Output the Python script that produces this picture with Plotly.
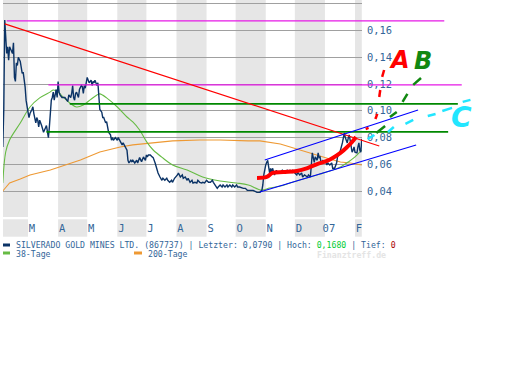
import plotly.graph_objects as go
import pandas as pd

# ---------------- data ----------------
price_dates = [
    "2006-02-03", "2006-02-04", "2006-02-05", "2006-02-06", "2006-02-07", "2006-02-08", "2006-02-09", "2006-02-10",
    "2006-02-13", "2006-02-14", "2006-02-15", "2006-02-16", "2006-02-17", "2006-02-18", "2006-02-19", "2006-02-21",
    "2006-02-22", "2006-02-23", "2006-02-24", "2006-02-25", "2006-02-26", "2006-02-27", "2006-02-28",
    "2006-03-01", "2006-03-02", "2006-03-03", "2006-03-05", "2006-03-06", "2006-03-07", "2006-03-09", "2006-03-10",
    "2006-03-11", "2006-03-12", "2006-03-13", "2006-03-15", "2006-03-16", "2006-03-17", "2006-03-20", "2006-03-21",
    "2006-03-22", "2006-03-23", "2006-03-24", "2006-03-25", "2006-03-26", "2006-03-27", "2006-03-28", "2006-03-30",
    "2006-03-31",
    "2006-04-01", "2006-04-02", "2006-04-03", "2006-04-05", "2006-04-06", "2006-04-08", "2006-04-10", "2006-04-11",
    "2006-04-12", "2006-04-14", "2006-04-15", "2006-04-16", "2006-04-17", "2006-04-18", "2006-04-19", "2006-04-20",
    "2006-04-22", "2006-04-23", "2006-04-25", "2006-04-26", "2006-04-27", "2006-04-28", "2006-04-29", "2006-04-30",
    "2006-05-01", "2006-05-02", "2006-05-03", "2006-05-05", "2006-05-06", "2006-05-07", "2006-05-08", "2006-05-09",
    "2006-05-10", "2006-05-11", "2006-05-12", "2006-05-13", "2006-05-14", "2006-05-16", "2006-05-17", "2006-05-18",
    "2006-05-19", "2006-05-20", "2006-05-21", "2006-05-22", "2006-05-23", "2006-05-25", "2006-05-26", "2006-05-27",
    "2006-05-28", "2006-05-30",
    "2006-06-01", "2006-06-02", "2006-06-04", "2006-06-06", "2006-06-07", "2006-06-09", "2006-06-11", "2006-06-12",
    "2006-06-13", "2006-06-15", "2006-06-16", "2006-06-17", "2006-06-19", "2006-06-21", "2006-06-22", "2006-06-24",
    "2006-06-26", "2006-06-28", "2006-06-30",
    "2006-07-01", "2006-07-02", "2006-07-03", "2006-07-05", "2006-07-07", "2006-07-08", "2006-07-10", "2006-07-12",
    "2006-07-13", "2006-07-15", "2006-07-17", "2006-07-18", "2006-07-20", "2006-07-22", "2006-07-23", "2006-07-25",
    "2006-07-27", "2006-07-28", "2006-07-30",
    "2006-08-02", "2006-08-03", "2006-08-05", "2006-08-07", "2006-08-08", "2006-08-10", "2006-08-12", "2006-08-13",
    "2006-08-15", "2006-08-17", "2006-08-18", "2006-08-20", "2006-08-22", "2006-08-23", "2006-08-25", "2006-08-27",
    "2006-08-28", "2006-08-30",
    "2006-09-01", "2006-09-03", "2006-09-05", "2006-09-07", "2006-09-08", "2006-09-10", "2006-09-12", "2006-09-13",
    "2006-09-15", "2006-09-17", "2006-09-18", "2006-09-20", "2006-09-22", "2006-09-23", "2006-09-25", "2006-09-27",
    "2006-09-28", "2006-09-30",
    "2006-10-02", "2006-10-03", "2006-10-05", "2006-10-09", "2006-10-11", "2006-10-13", "2006-10-16", "2006-10-19",
    "2006-10-23", "2006-10-26", "2006-10-28", "2006-10-29", "2006-10-30", "2006-10-31",
    "2006-11-01", "2006-11-02", "2006-11-03", "2006-11-04", "2006-11-05", "2006-11-06", "2006-11-07", "2006-11-08",
    "2006-11-10", "2006-11-12", "2006-11-13", "2006-11-14", "2006-11-16", "2006-11-18", "2006-11-19", "2006-11-21",
    "2006-11-23", "2006-11-24", "2006-11-26", "2006-11-28", "2006-11-29",
    "2006-12-01", "2006-12-03", "2006-12-04", "2006-12-06", "2006-12-08", "2006-12-09", "2006-12-11", "2006-12-14",
    "2006-12-15", "2006-12-17", "2006-12-18", "2006-12-19", "2006-12-20", "2006-12-21", "2006-12-22", "2006-12-24",
    "2006-12-25", "2006-12-26", "2006-12-27", "2006-12-28", "2006-12-30", "2006-12-31",
    "2007-01-01", "2007-01-03", "2007-01-04", "2007-01-06", "2007-01-08", "2007-01-09", "2007-01-11", "2007-01-13",
    "2007-01-14", "2007-01-17", "2007-01-19", "2007-01-20", "2007-01-21", "2007-01-22", "2007-01-24", "2007-01-25",
    "2007-01-26", "2007-01-27", "2007-01-28", "2007-01-29", "2007-01-30", "2007-01-31",
    "2007-02-01", "2007-02-03", "2007-02-04", "2007-02-05", "2007-02-06", "2007-02-07", "2007-02-08",
]
price_values = [
    0.073, 0.101, 0.168, 0.151, 0.143, 0.148, 0.138, 0.148,
    0.143, 0.151, 0.125, 0.122, 0.136, 0.134, 0.140, 0.137,
    0.132, 0.128, 0.129, 0.125, 0.118, 0.108, 0.101,
    0.099, 0.095, 0.098, 0.101, 0.103, 0.098, 0.091, 0.095,
    0.093, 0.088, 0.093, 0.089, 0.086, 0.084, 0.089, 0.083,
    0.080, 0.088, 0.101, 0.108, 0.110, 0.114, 0.108, 0.116,
    0.110,
    0.122, 0.114, 0.112, 0.110, 0.110, 0.110, 0.108, 0.107,
    0.112, 0.110, 0.113, 0.119, 0.110, 0.108, 0.113, 0.114,
    0.110, 0.116, 0.119, 0.118, 0.113, 0.119, 0.117, 0.121,
    0.125, 0.123, 0.121, 0.123, 0.119, 0.122, 0.121, 0.123,
    0.121, 0.119, 0.121, 0.106, 0.101, 0.099, 0.095, 0.095,
    0.092, 0.091, 0.092, 0.088, 0.084, 0.082, 0.078, 0.080,
    0.078, 0.080,
    0.078, 0.080, 0.077, 0.0745, 0.076, 0.073, 0.0705, 0.063,
    0.061, 0.063, 0.062, 0.063, 0.061, 0.063, 0.061, 0.065,
    0.062, 0.0655, 0.063,
    0.067, 0.0655, 0.067, 0.067, 0.0655, 0.065, 0.061, 0.0555,
    0.0535, 0.0505, 0.048, 0.0495, 0.048, 0.0495, 0.048, 0.0465,
    0.048, 0.0465, 0.0495,
    0.052, 0.0535, 0.0505, 0.052, 0.0495, 0.0505, 0.048, 0.0495,
    0.0465, 0.048, 0.046, 0.0465, 0.046, 0.048, 0.0465, 0.046,
    0.0465, 0.046,
    0.048, 0.0465, 0.0465, 0.048, 0.0465, 0.0445, 0.042, 0.043,
    0.0445, 0.043, 0.0445, 0.043, 0.0445, 0.043, 0.0445, 0.043,
    0.0445, 0.043,
    0.0445, 0.043, 0.043, 0.042, 0.042, 0.0405, 0.0405, 0.0405,
    0.039, 0.039, 0.0405, 0.0445, 0.052, 0.057,
    0.0595, 0.0615, 0.063, 0.058, 0.0535, 0.057, 0.0535, 0.057,
    0.052, 0.0555, 0.0535, 0.054, 0.0535, 0.0555, 0.054, 0.0535,
    0.0555, 0.054, 0.0555, 0.054, 0.0555,
    0.0535, 0.052, 0.054, 0.052, 0.0535, 0.0505, 0.052, 0.0505,
    0.052, 0.0505, 0.0595, 0.0685, 0.065, 0.0615, 0.0655, 0.063,
    0.0685, 0.065, 0.0655, 0.061, 0.063, 0.061,
    0.063, 0.0595, 0.061, 0.0595, 0.061, 0.057, 0.057, 0.061,
    0.0655, 0.0705, 0.076, 0.080, 0.0835, 0.080, 0.076, 0.0795,
    0.082, 0.078, 0.073, 0.069, 0.0705, 0.073,
    0.069, 0.0685, 0.073, 0.076, 0.0705, 0.069, 0.079,
]

ma38_dates = [
    "2006-02-03", "2006-02-06", "2006-02-10", "2006-02-21", "2006-03-03", "2006-03-13", "2006-03-24", "2006-03-27",
    "2006-04-01", "2006-04-06", "2006-04-13", "2006-04-20", "2006-04-27", "2006-05-04", "2006-05-11", "2006-05-14",
    "2006-05-21", "2006-06-01", "2006-06-11", "2006-06-17", "2006-06-24", "2006-07-02", "2006-07-08", "2006-07-18",
    "2006-07-28", "2006-08-12", "2006-08-28", "2006-09-15", "2006-10-02", "2006-10-14", "2006-10-28", "2006-11-05",
    "2006-11-16", "2006-11-26", "2006-12-06", "2006-12-17", "2006-12-27", "2007-01-06", "2007-01-17", "2007-01-25",
    "2007-02-01", "2007-02-08",
]
ma38_values = [
    0.0460, 0.0692, 0.0782, 0.0909, 0.1029, 0.1097, 0.1142, 0.1156,
    0.1142, 0.1104, 0.1059, 0.1029, 0.1044, 0.1082, 0.1119, 0.1127,
    0.1097, 0.1029, 0.0954, 0.0917, 0.0857, 0.0760, 0.0707, 0.0647,
    0.0595, 0.0557, 0.0505, 0.0475, 0.0460, 0.0445, 0.0407, 0.0422,
    0.0437, 0.0460, 0.0482, 0.0505, 0.0527, 0.0550, 0.0580, 0.0617,
    0.0655, 0.0707,
]

ma200_dates = [
    "2006-02-03", "2006-02-10", "2006-02-21", "2006-03-03", "2006-03-24", "2006-04-10", "2006-04-24", "2006-05-14",
    "2006-06-04", "2006-06-17", "2006-07-05", "2006-07-28", "2006-08-25", "2006-09-15", "2006-10-14", "2006-10-26",
    "2006-11-16", "2006-11-29", "2006-12-14", "2006-12-27", "2007-01-06", "2007-01-17", "2007-01-27", "2007-02-08",
]
ma200_values = [
    0.0400, 0.0460, 0.0490, 0.0520, 0.0557, 0.0595, 0.0632, 0.0692,
    0.0730, 0.0745, 0.0760, 0.0775, 0.0782, 0.0782, 0.0775, 0.0775,
    0.0752, 0.0722, 0.0692, 0.0662, 0.0640, 0.0617, 0.0610, 0.0595,
]

# month labels of the time axis
month_starts = ["2006-03-01", "2006-04-01", "2006-05-01", "2006-06-01", "2006-07-01", "2006-08-01",
                "2006-09-01", "2006-10-01", "2006-11-01", "2006-12-01", "2007-01-01", "2007-02-01"]
month_labels = ["M", "A", "M", "J", "J", "A", "S", "O", "N", "D", "07", "F"]
# shaded (every second) months
shade_starts = ["2006-02-03", "2006-04-01", "2006-06-01", "2006-08-01", "2006-10-01", "2006-12-01", "2007-02-01"]
shade_ends = ["2006-03-01", "2006-05-01", "2006-07-01", "2006-09-01", "2006-11-01", "2007-01-01", "2007-02-08"]

y_tick_values = [0.04, 0.06, 0.08, 0.10, 0.12, 0.14, 0.16, 0.18]
y_tick_labels = ["0,04", "0,06", "0,08", "0,10", "0,12", "0,14", "0,16", ""]

# hand-drawn analysis lines
magenta_top_dates = ["2006-02-07", "2007-05-04"]
magenta_top_values = [0.1673, 0.1673]
magenta_mid_dates = ["2006-03-22", "2007-05-22"]
magenta_mid_values = [0.1194, 0.1194]
green_upper_dates = ["2006-04-13", "2007-05-18"]
green_upper_values = [0.1052, 0.1052]
green_lower_dates = ["2006-03-20", "2007-05-08"]
green_lower_values = [0.0842, 0.0842]
red_trend_dates = ["2006-02-05", "2007-02-26"]
red_trend_values = [0.1651, 0.0737]
blue_upper_dates = ["2006-10-31", "2007-04-07"]
blue_upper_values = [0.0632, 0.1007]
blue_lower_dates = ["2006-10-26", "2007-04-05"]
blue_lower_values = [0.0393, 0.0745]
red_curve_dates = ["2006-10-23", "2006-11-02", "2006-11-08", "2006-11-19", "2006-12-03", "2006-12-14", "2006-12-24",
                   "2007-01-03", "2007-01-09", "2007-01-17", "2007-01-24", "2007-01-29", "2007-02-02"]
red_curve_values = [0.0497, 0.0505, 0.0535, 0.0542, 0.0550, 0.0572, 0.0602,
                    0.0625, 0.0647, 0.0685, 0.0730, 0.0767, 0.0804]
red_dash_dates = ["2007-03-01", "2007-03-03", None, "2007-02-26", "2007-02-27", None,
                  "2007-02-22", "2007-02-24", None, "2007-02-12", "2007-02-15"]
red_dash_values = [0.1254, 0.1306, None, 0.1104, 0.1156, None, 0.0939, 0.0977, None, 0.0864, 0.0872]
green_dash_dates = ["2007-04-02", "2007-04-10", None, "2007-03-22", "2007-03-27", None,
                    "2007-03-09", "2007-03-16", None, "2007-02-23", "2007-03-04"]
green_dash_values = [0.1194, 0.1246, None, 0.1067, 0.1127, None, 0.0954, 0.0992, None, 0.0834, 0.0887]
cyan_dash_dates = ["2007-05-23", "2007-05-31", None, "2007-05-02", "2007-05-12", None,
                   "2007-04-17", "2007-04-25", None, "2007-03-25", "2007-04-02", None,
                   "2007-03-07", "2007-03-13", None, "2007-02-14", "2007-02-21"]
cyan_dash_values = [0.1067, 0.1082, None, 0.0999, 0.1022, None, 0.0962, 0.0977, None,
                    0.0902, 0.0932, None, 0.0842, 0.0879, None, 0.0789, 0.0819]
letter_texts = ["A", "B", "C"]
letter_dates = ["2007-03-19", "2007-04-12", "2007-05-22"]
letter_values = [0.1381, 0.1374, 0.0954]

# ---------------- layout geometry ----------------
W, H = 512, 384
ML, MR, MT, MB = 3, 22, 0, 167
plot_w = W - ML - MR
main_w = 359
x_start = pd.Timestamp("2006-02-03 05:00")
x_end = pd.Timestamp("2007-02-08 05:00")
x2_end = x_start + (x_end - x_start) * (plot_w / main_w)
y_range = [0.02054, 0.18298]
plot_h = H - MT - MB


def px(xp):
    return (xp - ML) / plot_w


def py(yp):
    return (H - MB - yp) / plot_h


TXT = "#336699"
MONO = "DejaVu Sans Mono"

fig = go.Figure()

# moving averages and price (main subplot)
fig.add_trace(go.Scatter(x=ma200_dates, y=ma200_values, mode="lines",
                         line=dict(color="#ee9933", width=1.1), hoverinfo="skip"))
fig.add_trace(go.Scatter(x=ma38_dates, y=ma38_values, mode="lines",
                         line=dict(color="#66bb44", width=1.1, shape="spline"), hoverinfo="skip"))
fig.add_trace(go.Scatter(x=price_dates, y=price_values, mode="lines",
                         line=dict(color="#0b3366", width=1.4), hoverinfo="skip"))

# analysis overlay (extended axis x2/y2 with identical scale)
overlay = [
    (magenta_top_dates, magenta_top_values, "#e619e6", 1.3),
    (magenta_mid_dates, magenta_mid_values, "#e619e6", 1.3),
    (green_upper_dates, green_upper_values, "#008800", 1.8),
    (green_lower_dates, green_lower_values, "#008800", 1.8),
    (red_trend_dates, red_trend_values, "#ff0000", 1.1),
    (blue_upper_dates, blue_upper_values, "#0000ff", 1.1),
    (blue_lower_dates, blue_lower_values, "#0000ff", 1.1),
    (red_curve_dates, red_curve_values, "#ff0000", 4),
    (red_dash_dates, red_dash_values, "#ff0000", 2.5),
    (green_dash_dates, green_dash_values, "#118811", 2.5),
    (cyan_dash_dates, cyan_dash_values, "#22e6ff", 2.5),
]
for xs, ys, col, w in overlay:
    fig.add_trace(go.Scatter(x=xs, y=ys, mode="lines", xaxis="x2", yaxis="y2",
                             line=dict(color=col, width=w, shape="spline" if w >= 4 else "linear"),
                             connectgaps=False, hoverinfo="skip"))

letter_colors = ["#ff0000", "#118811", "#22e6ff"]
letter_sizes = [24, 24, 28]
for t, d, v, c, s in zip(letter_texts, letter_dates, letter_values, letter_colors, letter_sizes):
    fig.add_annotation(x=d, y=v, xref="x2", yref="y2", text="<b><i>" + t + "</i></b>",
                       showarrow=False, font=dict(family="DejaVu Sans", size=s, color=c))

# shaded month bands (plot area and label strip)
shapes = []
for s, e in zip(shade_starts, shade_ends):
    for y0, y1 in [(0, 1), (py(236.7), py(219.3))]:
        shapes.append(dict(type="rect", xref="x", yref="paper", x0=s, x1=e, y0=y0, y1=y1,
                           fillcolor="#e6e6e6", line=dict(width=0), layer="below"))

# legend markers
shapes.append(dict(type="line", xref="paper", yref="paper", x0=px(3), x1=px(10), y0=py(245), y1=py(245),
                   line=dict(color="#0b3366", width=3)))
shapes.append(dict(type="line", xref="paper", yref="paper", x0=px(3), x1=px(10), y0=py(253), y1=py(253),
                   line=dict(color="#66bb44", width=3)))
shapes.append(dict(type="line", xref="paper", yref="paper", x0=px(134), x1=px(142), y0=py(253), y1=py(253),
                   line=dict(color="#ee9933", width=3)))

legend_font = dict(family=MONO, size=8.2, color=TXT)
fig.add_annotation(xref="paper", yref="paper", x=px(14), y=py(244.5), xanchor="left", yanchor="middle",
                   showarrow=False, font=legend_font,
                   text="SILVERADO GOLD MINES LTD. (867737) | Letzter: 0,0790 | Hoch: "
                        "<span style='color:#00cc33'>0,1680</span> | Tief: "
                        "<span style='color:#aa0000'>0</span>")
fig.add_annotation(xref="paper", yref="paper", x=px(14), y=py(254), xanchor="left", yanchor="middle",
                   showarrow=False, font=legend_font, text="38-Tage")
fig.add_annotation(xref="paper", yref="paper", x=px(146), y=py(254), xanchor="left", yanchor="middle",
                   showarrow=False, font=legend_font, text="200-Tage")
fig.add_annotation(xref="paper", yref="paper", x=px(351), y=py(255), xanchor="center", yanchor="middle",
                   showarrow=False, font=dict(family=MONO, size=8.2, color="#e4e4e4"),
                   text="<b>Finanztreff.de</b>")

fig.update_layout(
    width=W, height=H,
    margin=dict(l=ML, r=MR, t=MT, b=MB, pad=0),
    paper_bgcolor="white", plot_bgcolor="rgba(0,0,0,0)",
    showlegend=False,
    shapes=shapes,
    xaxis=dict(domain=[0, main_w / plot_w], range=[x_start, x_end], anchor="y",
               tickmode="array", tickvals=month_starts, ticktext=month_labels,
               showgrid=False, zeroline=False, showline=False, ticks="",
               tickfont=dict(family=MONO, size=10.5, color=TXT),
               ticklabelshift=4, ticklabelstandoff=3),
    yaxis=dict(range=y_range, side="right", anchor="x",
               tickmode="array", tickvals=y_tick_values, ticktext=y_tick_labels,
               showgrid=True, gridcolor="#a0a0a0", gridwidth=1.2,
               zeroline=False, showline=False, ticks="",
               tickfont=dict(family=MONO, size=10.4, color=TXT),
               ticklabelstandoff=4),
    xaxis2=dict(domain=[0, 1], range=[x_start, x2_end], anchor="y2", visible=False),
    yaxis2=dict(domain=[0, 1], range=y_range, anchor="x2", visible=False, showgrid=False),
)

fig.write_html("out.html", config={"displayModeBar": False},
               post_script="document.body.style.margin='0px';")
